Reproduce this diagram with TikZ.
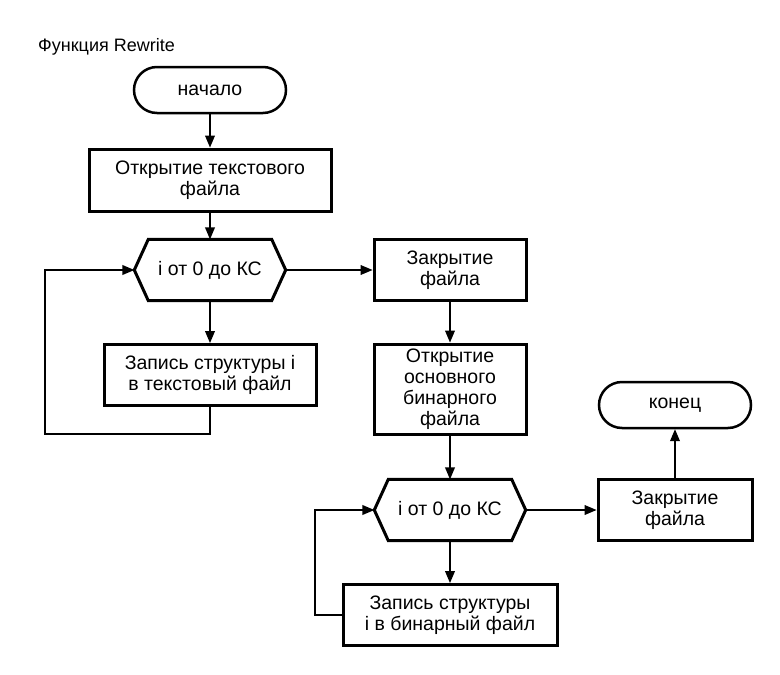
\documentclass[tikz,border=0pt]{standalone}
\usepackage{fontspec}
\setmainfont{Liberation Sans}
\usetikzlibrary{arrows,calc}
\tikzset{every picture/.style={/utils/exec={\fontsize{19.5}{21}\selectfont}}}
\tikzset{blockbox/.style={draw,line width=3pt,align=center,inner sep=0pt}}
\tikzset{termbox/.style={draw,line width=2.5pt,rounded corners=23pt,minimum width=152pt,minimum height=46pt,inner sep=0pt}}
\tikzset{loopbox/.style={inner sep=0pt,minimum width=151pt,minimum height=61pt}}
\tikzset{hexline/.style={line width=3pt,line join=miter}}
\tikzset{flow/.style={-triangle 45,line width=1.8pt}}

\begin{document}
\begin{tikzpicture}[x=1pt,y=-1pt]
    \useasboundingbox (0,0) rectangle (780,675);
    \node [anchor=west,inner sep=0pt,font=\fontsize{18}{20}\selectfont] (title) at (38,47) {Функция Rewrite};
    \node [termbox] (start) at (210,90) {начало};
    \node [blockbox,minimum width=242pt,minimum height=62pt] (open1) at (210,180) {Открытие текстового\\файла};
    \node [loopbox] (loop1) at (210,270) {i от 0 до КС};
    \draw [hexline] (loop1.west) -- ($(loop1.north west)+(14,0)$) -- ($(loop1.north east)+(-14,0)$) -- (loop1.east) -- ($(loop1.south east)+(-14,0)$) -- ($(loop1.south west)+(14,0)$) -- cycle;
    \node [blockbox,minimum width=212pt,minimum height=61pt] (write1) at (210,375) {Запись структуры i\\в текстовый файл};
    \node [blockbox,minimum width=152pt,minimum height=61pt] (close1) at (450,270) {Закрытие\\файла};
    \node [blockbox,minimum width=152pt,minimum height=90pt] (open2) at (450,389) {Открытие\\основного\\бинарного\\файла};
    \node [loopbox] (loop2) at (450,510) {i от 0 до КС};
    \draw [hexline] (loop2.west) -- ($(loop2.north west)+(14,0)$) -- ($(loop2.north east)+(-14,0)$) -- (loop2.east) -- ($(loop2.south east)+(-14,0)$) -- ($(loop2.south west)+(14,0)$) -- cycle;
    \node [blockbox,minimum width=214pt,minimum height=61pt] (write2) at (450,615) {Запись структуры\\i в бинарный файл};
    \node [blockbox,minimum width=154pt,minimum height=61pt] (close2) at (675,510) {Закрытие\\файла};
    \node [termbox] (stop) at (675,405) {конец};
    \coordinate (back1) at (45,434);
    \coordinate (back2) at (315,615);
    \draw [flow] (start) -- (open1);
    \draw [flow] (open1) -- (loop1);
    \draw [flow] (loop1) -- (write1);
    \draw [flow] (write1.south) |- (back1) |- (loop1.west);
    \draw [flow] (loop1.east) -- (close1);
    \draw [flow] (close1) -- (open2);
    \draw [flow] (open2) -- (loop2);
    \draw [flow] (loop2) -- (write2);
    \draw [flow] (write2.west) -- (back2) |- (loop2.west);
    \draw [flow] (loop2.east) -- (close2);
    \draw [flow] (close2) -- (stop);
\end{tikzpicture}
\end{document}
